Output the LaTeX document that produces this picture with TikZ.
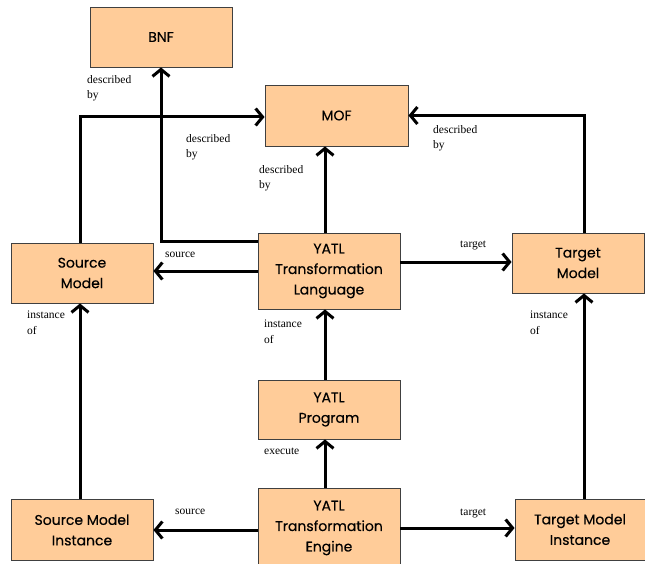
\documentclass[tikz,border=0pt]{standalone}
\usepackage{fontspec}
\setmainfont{Liberation Serif}
\newfontfamily\boxfontfam[FakeBold=0.3]{Poppins}
\usetikzlibrary{arrows.meta}
\definecolor{boxfill}{HTML}{FFCC99}
\begin{document}
\begin{tikzpicture}[x=1bp,y=-1bp,
  box/.style={draw=black!75, line width=0.9bp, fill=boxfill, inner sep=0pt, align=center,
    font=\boxfontfam\fontsize{14bp}{20.5bp}\selectfont},
  lab/.style={font=\fontsize{11.5bp}{15.5bp}\selectfont, align=left, anchor=north west, inner sep=0pt},
  conn/.style={line width=3bp, -{Straight Barb[length=7bp,width=17bp]}}]
\useasboundingbox (0,0) rectangle (645,564);
\clip (0,0) rectangle (645,564);
\node[box, minimum width=142bp, minimum height=60bp] (bnf) at (161,37) {BNF};
\node[box, minimum width=143bp, minimum height=61bp] (mof) at (336.5,115.5) {MOF};
\node[box, minimum width=142bp, minimum height=60bp] (src) at (82,273) {Source\\Model};
\node[box, minimum width=142bp, minimum height=76bp] (tl) at (329,271) {YATL\\Transformation\\Language};
\node[box, minimum width=132bp, minimum height=60bp] (tgt) at (578,263) {Target\\Model};
\node[box, minimum width=142bp, minimum height=59bp] (prog) at (329,409.5) {YATL\\Program};
\node[box, minimum width=142bp, minimum height=80bp] (te) at (329,528) {YATL\\Transformation\\Engine};
\node[box, minimum width=142bp, minimum height=61bp] (smi) at (82,530) {Source Model\\Instance};
\node[box, minimum width=130bp, minimum height=61bp] (tmi) at (580,529.5) {Target Model\\Instance};

\draw[conn] ([xshift=-2bp]src.north) |- ([yshift=-1.5bp]mof.west);
\draw[conn] ([yshift=-9bp]tl.north west) -| (bnf.south);
\draw[conn] ([xshift=-4bp]tl.north) -- ([xshift=-4bp]tl.north |- mof.south);
\draw[conn] ([xshift=6bp]tgt.north) |- (mof.east);
\draw[conn] (tl.west) -- (tl.west -| src.east);
\draw[conn] ([yshift=9bp]tl.east) -- ([yshift=9bp]tl.east -| tgt.west);
\draw[conn] ([xshift=-2bp]smi.north) -- ([xshift=-2bp]smi.north |- src.south);
\draw[conn] ([xshift=-4bp]prog.north) -- ([xshift=-4bp]prog.north |- tl.south);
\draw[conn] ([xshift=-4bp]te.north) -- ([xshift=-4bp]te.north |- prog.south);
\draw[conn] ([yshift=-2bp]te.west) -- ([yshift=-2bp]te.west -| smi.east);
\draw[conn] (te.east) -- (te.east -| tmi.west);
\draw[conn] ([xshift=4bp]tmi.north) -- ([xshift=4bp]tmi.north |- tgt.south);

\node[lab] (l1) at (87,75) {described\\by};
\node[lab] (l2) at (186,134) {described\\by};
\node[lab] (l3) at (259,165) {described\\by};
\node[lab] (l4) at (433,125) {described\\by};
\node[lab] (l5) at (165,252) {source};
\node[lab] (l6) at (460,241) {target};
\node[lab] (l7) at (27,311) {instance\\of};
\node[lab] (l8) at (264,320) {instance\\of};
\node[lab] (l9) at (264,448) {execute};
\node[lab] (l10) at (175,509) {source};
\node[lab] (l11) at (460,509) {target};
\node[lab] (l12) at (530,311) {instance\\of};
\end{tikzpicture}
\end{document}
